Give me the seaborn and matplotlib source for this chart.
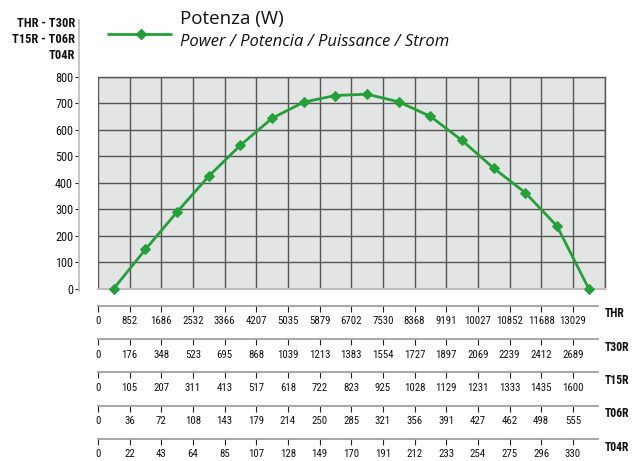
import numpy as np
import pandas as pd
import matplotlib.pyplot as plt
import seaborn as sns
from matplotlib.lines import Line2D

sns.set_theme(style="white")
plt.rcParams['font.family'] = ['Roboto Condensed', 'Liberation Sans', 'DejaVu Sans']

# power curve (W), one point per column
power = [0, 148, 290, 425, 542, 644, 705, 730, 735, 706, 651, 560, 455, 362, 236, 0]

# flow scales for each model
scale_names = ["THR", "T30R", "T15R", "T06R", "T04R"]
thr = [0, 852, 1686, 2532, 3366, 4207, 5035, 5879, 6702, 7530, 8368, 9191, 10027, 10852, 11688, 13029]
t30r = [0, 176, 348, 523, 695, 868, 1039, 1213, 1383, 1554, 1727, 1897, 2069, 2239, 2412, 2689]
t15r = [0, 105, 207, 311, 413, 517, 618, 722, 823, 925, 1028, 1129, 1231, 1333, 1435, 1600]
t06r = [0, 36, 72, 108, 143, 179, 214, 250, 285, 321, 356, 391, 427, 462, 498, 555]
t04r = [0, 22, 43, 64, 85, 107, 128, 149, 170, 191, 212, 233, 254, 275, 296, 330]
scales = [thr, t30r, t15r, t06r, t04r]

y_ticks = [0, 100, 200, 300, 400, 500, 600, 700, 800]

GREEN = "#23a03a"
GRID = "#555555"
W, H = 632, 461

df = pd.DataFrame({"pos": np.arange(len(power)) + 0.5, "power": power})

fig = plt.figure(figsize=(W / 100, H / 100), dpi=100)
ax = fig.add_axes([98 / W, 1 - 288.5 / H, (604.5 - 98) / W, (288.5 - 77) / H])
ax.set_facecolor("#e3e4e4")

sns.lineplot(data=df, x="pos", y="power", ax=ax, color=GREEN, lw=2,
             marker="D", markersize=5.5, markeredgecolor=GREEN, clip_on=False, zorder=5)

ax.set_xlim(0, 16)
ax.set_ylim(0, 800)
ax.set_xticks(np.arange(0, 17))
ax.set_yticks(y_ticks)
ax.grid(True, color=GRID, lw=1)
ax.set_xlabel("")
ax.set_ylabel("")
ax.tick_params(axis="x", bottom=False, labelbottom=False)
ax.tick_params(axis="y", left=True, length=3, width=0.8, color="#222222", pad=1,
               labelsize=8.8, labelcolor="#111111")
for s in ["top", "right"]:
    ax.spines[s].set_color(GRID)
    ax.spines[s].set_linewidth(1)
ax.spines["bottom"].set_color("#bdbdbd")
ax.spines["bottom"].set_linewidth(1.5)
ax.spines["left"].set_position(("outward", 14))
ax.spines["left"].set_bounds(-10, 1016)
ax.spines["left"].set_color("#bbbbbb")
ax.spines["left"].set_linewidth(1.2)

# left header
fig.text(75 / W, 1 - 39.5 / H, "THR - T30R\nT15R - T06R\nT04R", ha="right", va="center",
         fontsize=9, fontweight="bold", linespacing=1.28, color="#111111")

# legend
fig.add_artist(Line2D([108 / W, 171 / W], [1 - 34 / H, 1 - 34 / H], color=GREEN, lw=2))
fig.add_artist(Line2D([141 / W], [1 - 34 / H], color=GREEN, marker="D", markersize=5.5))
fig.text(180 / W, 1 - 19 / H, "Potenza (W)", ha="left", va="center",
         fontsize=13.5, family=["Open Sans", "DejaVu Sans"], color="#111111")
fig.text(180 / W, 1 - 42 / H, "Power / Potencia / Puissance / Strom", ha="left", va="center",
         fontsize=12, style="italic", family=["Open Sans", "DejaVu Sans"], color="#111111")

# bottom flow scales
line_y = [305.7, 339.3, 372.3, 405.7, 439.0]
for name, vals, ly in zip(scale_names, scales, line_y):
    sa = fig.add_axes([98 / W, 1 - ly / H, (604.5 - 98) / W, 0.01])
    sa.set_xlim(0, 16)
    sa.set_ylim(0, 1)
    sa.patch.set_alpha(0)
    for s in ["top", "right", "left"]:
        sa.spines[s].set_visible(False)
    sa.spines["bottom"].set_color("#a0a0a0")
    sa.spines["bottom"].set_linewidth(1.3)
    sa.spines["bottom"].set_bounds(0, 15.8)
    sa.set_yticks([])
    sa.set_xticks(np.arange(len(vals)))
    sa.set_xticklabels([str(v) for v in vals])
    sa.tick_params(axis="x", bottom=True, direction="out", length=4, width=0.8,
                   color="#222222", pad=3.5, labelsize=7.8, labelcolor="#111111")
    sa.text(605 / W, 1 - (ly + 8) / H, name, transform=fig.transFigure, ha="left",
            va="center", fontsize=8.5, fontweight="bold", color="#111111")

fig.savefig("out.png", dpi=100)
